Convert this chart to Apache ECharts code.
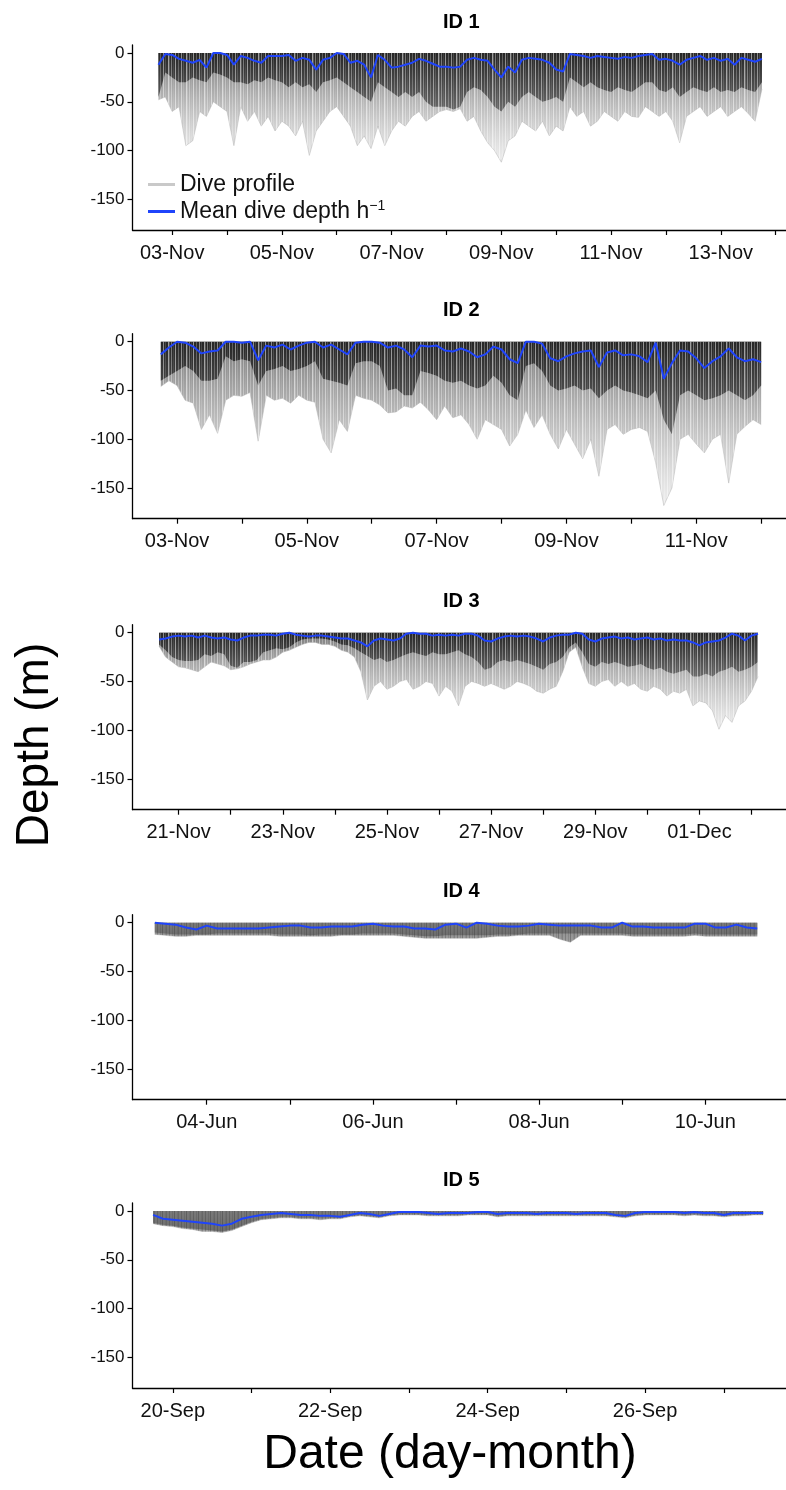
<!DOCTYPE html>
<html>
<head>
<meta charset="utf-8">
<script src="https://cdn.jsdelivr.net/npm/echarts@6/dist/echarts.min.js"></script>
<style>
  html, body { margin: 0; padding: 0; background: #fff; }
  #chart { width: 786px; height: 1490px; }
</style>
</head>
<body>
<div id="chart"></div>
<script>
// ---- data (depth in m, one value every 3 h; x in days from first labelled date) ----
const STEP = 0.125;

// ID 1
const start1 = -0.25;
const mean1 = [-12,-1,-2,-6,-8,-10,-7,-15,0,0, -2,-12,-3,-5,-8,-10,-3,-3,-3,-2, -8,-5,-7,-17,-7,-5,0,-1,-10,-8,
  -12,-25,-2,-7,-15,-14,-12,-10,-6,-8, -11,-14,-14,-15,-14,-7,-5,-7,-8,-17, -25,-14,-20,-7,-5,-6,-7,-10,-17,-19,
  -1,-2,-3,-5,-3,-4,-5,-6,-4,-5, -3,-2,-1,-7,-6,-8,-12,-7,-5,-3, -7,-5,-8,-6,-12,-5,-7,-9,-6];
const core1 = [-45,-20,-25,-30,-30,-25,-28,-30,-20,-22, -25,-30,-30,-32,-28,-30,-25,-28,-30,-35, -30,-35,-32,-40,-30,-28,-25,-30,-35,-40,
  -45,-50,-30,-35,-40,-45,-40,-45,-40,-50, -55,-55,-55,-58,-55,-40,-35,-38,-45,-55, -60,-50,-55,-45,-40,-45,-50,-48,-45,-50,
  -25,-30,-35,-30,-35,-38,-40,-35,-38,-40, -35,-30,-30,-38,-40,-35,-45,-40,-35,-38, -40,-35,-40,-38,-40,-35,-38,-40,-30];
const max1 = [-48,-45,-60,-55,-95,-90,-60,-65,-50,-55, -60,-95,-55,-70,-60,-75,-65,-80,-70,-75, -85,-70,-105,-80,-70,-60,-55,-65,-75,-95,
  -85,-98,-75,-95,-80,-70,-75,-65,-60,-70, -65,-60,-58,-60,-57,-70,-65,-80,-92,-100, -112,-90,-85,-70,-75,-80,-70,-85,-75,-80,
  -55,-65,-60,-75,-70,-60,-65,-70,-60,-65, -66,-55,-60,-65,-60,-70,-92,-65,-60,-55, -65,-60,-55,-65,-60,-55,-62,-70,-37];
const tickDays1 = [0,1,2,3,4,5,6,7,8,9,10,11];
const labelDays1 = [0,2,4,6,8,10];
const labels1 = ['03-Nov','05-Nov','07-Nov','09-Nov','11-Nov','13-Nov'];

// ID 2
const start2 = -0.25;
const mean2 = [-13,-6,0,-1,-5,-12,-10,-9,0,0, -1,0,-19,-4,-6,-3,-8,-4,-1,0, -6,-3,-8,-13,-1,0,0,-1,-6,-4,
  -8,-16,-4,-5,-4,-9,-10,-7,-10,-16, -13,-5,-8,-18,-22,0,0,-2,-17,-20, -15,-12,-10,-9,-26,-11,-9,-14,-13,-15,
  -21,-1,-38,-22,-9,-10,-17,-27,-20,-15, -7,-16,-20,-18,-21];
const core2 = [-40,-35,-30,-25,-30,-40,-40,-38,-15,-20, -18,-20,-45,-30,-28,-25,-30,-28,-25,-20, -38,-40,-42,-45,-22,-20,-20,-25,-50,-48,
  -55,-55,-30,-32,-35,-40,-42,-40,-45,-48, -45,-35,-42,-55,-60,-25,-22,-30,-45,-50, -48,-45,-50,-48,-58,-50,-45,-50,-52,-55,
  -58,-50,-80,-95,-55,-50,-55,-60,-58,-55, -50,-55,-60,-55,-45];
const max2 = [-46,-40,-45,-60,-63,-90,-75,-94,-60,-55, -56,-52,-102,-55,-60,-58,-63,-55,-60,-62, -100,-114,-80,-92,-55,-58,-60,-65,-73,-72,
  -66,-68,-62,-70,-80,-66,-78,-75,-85,-100, -80,-85,-90,-107,-95,-70,-88,-75,-95,-110, -90,-105,-120,-100,-138,-90,-85,-95,-90,-88,
  -92,-124,-168,-150,-100,-95,-105,-114,-100,-95, -145,-95,-87,-80,-85];
const tickDays2 = [0,1,2,3,4,5,6,7,8,9];
const labelDays2 = [0,2,4,6,8];
const labels2 = ['03-Nov','05-Nov','07-Nov','09-Nov','11-Nov'];

// ID 3
const start3 = -0.375;
const mean3 = [-7,-6,-4,-3,-4,-3,-5,-3,-5,-6, -5,-7,-8,-5,-3,-3,-2,-2,-3,-1, 0,-2,-3,-4,-3,-3,-4,-5,-6,-6,
  -8,-10,-14,-8,-6,-7,-8,-6,-1,0, -1,-1,-3,-2,-3,-2,-3,-1,-1,-3, -8,-9,-6,-4,-3,-4,-3,-4,-6,-9,
  -5,-3,-2,-2,0,-1,-7,-9,-6,-5, -4,-6,-5,-7,-6,-5,-7,-6,-8,-7, -8,-8,-10,-13,-10,-9,-8,-5,-1,-3, -8,-3,-1];
const core3 = [-12,-18,-25,-28,-29,-29,-28,-22,-24,-20, -22,-34,-36,-30,-30,-28,-20,-18,-16,-17, -15,-10,-7,-6,-6,-6,-7,-9,-12,-13,
  -16,-20,-24,-28,-26,-30,-28,-25,-22,-20, -22,-24,-20,-22,-22,-20,-18,-22,-25,-30, -38,-36,-30,-28,-30,-28,-30,-32,-35,-38,
  -32,-30,-25,-15,-10,-20,-32,-35,-30,-32, -30,-32,-35,-34,-32,-36,-38,-36,-40,-42, -40,-38,-45,-45,-42,-45,-40,-38,-35,-40, -38,-35,-30];
const max3 = [-14,-25,-30,-35,-36,-38,-40,-35,-30,-32, -34,-38,-37,-35,-32,-30,-28,-28,-25,-20, -18,-15,-12,-10,-10,-12,-12,-14,-18,-20,
  -25,-40,-69,-55,-50,-58,-55,-50,-48,-58, -55,-50,-52,-65,-55,-60,-75,-55,-50,-52, -55,-52,-55,-58,-55,-50,-52,-55,-60,-62,
  -58,-55,-40,-20,-15,-35,-52,-55,-50,-48, -55,-50,-55,-52,-58,-60,-55,-58,-65,-60, -62,-58,-75,-70,-72,-80,-99,-85,-92,-75, -70,-60,-45];
const tickDays3 = [0,1,2,3,4,5,6,7,8,9,10,11];
const labelDays3 = [0,2,4,6,8,10];
const labels3 = ['21-Nov','23-Nov','25-Nov','27-Nov','29-Nov','01-Dec'];

// ID 4
const start4 = -0.625;
const mean4 = [0,-1,-2,-5,-7,-3,-6,-6,-6,-6, -6,-5,-4,-3,-3,-5,-5,-4,-4,-4, -2,-1,-3,-4,-4,-6,-6,-7,-2,-1,
  -5,0,-1,-3,-4,-4,-3,-1,-2,-3, -3,-3,-3,-5,-5,0,-4,-4,-5,-5, -5,-5,-1,-1,-5,-5,-2,-5,-6];
const core4 = [-10,-11,-12,-12,-12,-12,-11,-11,-11,-11, -11,-11,-12,-12,-12,-13,-12,-12,-12,-12, -11,-11,-11,-11,-12,-13,-14,-14,-13,-13,
  -13,-13,-13,-12,-12,-12,-11,-11,-11,-11, -11,-11,-11,-11,-11,-11,-12,-12,-12,-12, -12,-12,-11,-12,-12,-12,-12,-12,-12];
const max4 = [-12,-13,-14,-14,-13,-13,-13,-13,-13,-13, -13,-13,-14,-14,-14,-14,-14,-14,-13,-13, -13,-13,-13,-13,-14,-15,-16,-16,-16,-16,
  -16,-16,-15,-14,-14,-13,-13,-13,-13,-17, -20,-13,-13,-13,-13,-13,-14,-14,-14,-14, -14,-14,-13,-14,-14,-14,-14,-14,-14];
const tickDays4 = [0,1,2,3,4,5,6];
const labelDays4 = [0,2,4,6];
const labels4 = ['04-Jun','06-Jun','08-Jun','10-Jun'];

// ID 5
const start5 = -0.25;
const mean5 = [-4,-8,-9,-10,-11,-12,-13,-15,-13,-8, -6,-4,-3,-2,-3,-4,-4,-5,-5,-6, -4,-2,-3,-5,-3,-1,-1,-1,-2,-3,
  -2,-2,-2,-1,-1,-3,-2,-2,-2,-3, -2,-2,-2,-3,-2,-2,-2,-4,-5,-2, -1,-1,-1,-1,-2,-1,-2,-2,-4,-2, -2,-2,-2];
const core5 = [-12,-14,-15,-17,-18,-19,-20,-21,-19,-15, -11,-8,-7,-6,-6,-7,-7,-7,-7,-7, -5,-4,-5,-6,-4,-3,-3,-3,-4,-4,
  -4,-4,-3,-3,-3,-5,-4,-4,-4,-4, -4,-4,-4,-4,-4,-4,-4,-5,-6,-4, -3,-3,-3,-3,-4,-3,-4,-4,-5,-4, -4,-3,-3];
const max5 = [-13,-15,-16,-18,-19,-21,-21,-22,-20,-16, -12,-9,-8,-7,-7,-8,-8,-9,-8,-8, -6,-5,-6,-7,-5,-4,-4,-4,-5,-5,
  -5,-5,-4,-4,-4,-6,-5,-5,-5,-5, -5,-5,-5,-5,-5,-5,-5,-6,-7,-5, -4,-4,-4,-4,-5,-4,-5,-5,-6,-5, -5,-4,-4];
const tickDays5 = [0,1,2,3,4,5,6,7];
const labelDays5 = [0,2,4,6];
const labels5 = ['20-Sep','22-Sep','24-Sep','26-Sep'];

const yTicks = [0, -50, -100, -150];

// ---- layout / style ----
const FONT = '"Liberation Sans", Arial, Helvetica, sans-serif';
const BLUE = '#1f44fb';
const GRID_LEFT = 132.5, GRID_W = 657.5, GRID_H = 185;
const zeroY = [53, 341.7, 632.7, 922.7, 1211];
// [first labelled tick x (px), px per day] for each panel
const xScale = [[172.4, 55.2], [177.3, 65.3], [178.9, 52.4], [207.2, 83.6], [173, 79.2]];

const panels = [
  { id: 'ID 1', start: start1, mean: mean1, core: core1, max: max1, ticks: tickDays1, lDays: labelDays1, labels: labels1, shallow: false },
  { id: 'ID 2', start: start2, mean: mean2, core: core2, max: max2, ticks: tickDays2, lDays: labelDays2, labels: labels2, shallow: false },
  { id: 'ID 3', start: start3, mean: mean3, core: core3, max: max3, ticks: tickDays3, lDays: labelDays3, labels: labels3, shallow: false },
  { id: 'ID 4', start: start4, mean: mean4, core: core4, max: max4, ticks: tickDays4, lDays: labelDays4, labels: labels4, shallow: true },
  { id: 'ID 5', start: start5, mean: mean5, core: core5, max: max5, ticks: tickDays5, lDays: labelDays5, labels: labels5, shallow: true }
];

const toXY = (start, arr) => arr.map((v, i) => [start + i * STEP, v]);
const grad = (c0, c1) => new echarts.graphic.LinearGradient(0, 0, 0, 1, [{ offset: 0, color: c0 }, { offset: 1, color: c1 }]);

// thin vertical streaks, to give the dive-profile areas a line texture
function streaks(alphas, rgb) {
  const c = document.createElement('canvas');
  c.width = alphas.length; c.height = 4;
  const ctx = c.getContext('2d');
  alphas.forEach((a, i) => {
    ctx.fillStyle = 'rgba(' + rgb + ',' + a + ')';
    ctx.fillRect(i, 0, 1, 4);
  });
  return { image: c, repeat: 'repeat' };
}
const lightStreaks = streaks([0, 0.45, 0, 0.15, 0, 0, 0.55, 0.2, 0, 0.35, 0, 0.1, 0, 0.5, 0, 0, 0.25, 0], '255,255,255');
const darkStreaks = streaks([0, 0.25, 0, 0, 0.15, 0, 0.3, 0, 0, 0.1, 0.2, 0], '40,40,40');

const grid = [], xAxis = [], yAxis = [], series = [], graphic = [];

panels.forEach((p, k) => {
  const top = zeroY[k] - 8;
  const [t0, ppd] = xScale[k];
  grid.push({ left: GRID_LEFT, top: top, width: GRID_W, height: GRID_H });
  xAxis.push({
    gridIndex: k, type: 'value',
    min: (GRID_LEFT - t0) / ppd, max: (GRID_LEFT + GRID_W - t0) / ppd,
    axisLine: { onZero: false, lineStyle: { color: '#000', width: 1.3 } },
    axisTick: { show: true, length: 5, customValues: p.ticks, lineStyle: { color: '#000', width: 1.2 } },
    axisLabel: {
      customValues: p.lDays, margin: 13, fontSize: 20, color: '#111', fontFamily: FONT,
      formatter: v => p.labels[p.lDays.indexOf(Math.round(v))] || ''
    },
    splitLine: { show: false }
  });
  yAxis.push({
    gridIndex: k, type: 'value', min: -181.5, max: 8.2,
    axisLine: { show: true, onZero: false, lineStyle: { color: '#000', width: 1.3 } },
    axisTick: { show: true, length: 5, customValues: yTicks, lineStyle: { color: '#000', width: 1.2 } },
    axisLabel: { customValues: yTicks, margin: 8, fontSize: 17, color: '#111', fontFamily: FONT },
    splitLine: { show: false }
  });

  const maxFill = p.shallow ? grad('rgba(125,125,125,0.9)', 'rgba(140,140,140,0.85)')
                            : grad('rgba(100,100,100,0.85)', 'rgba(220,220,220,0.5)');
  const coreFill = p.shallow ? grad('#7a7a7a', '#6c6c6c') : grad('#262626', '#6a6a6a');

  series.push({
    name: 'Dive profile', type: 'line', xAxisIndex: k, yAxisIndex: k,
    data: toXY(p.start, p.max), showSymbol: false, silent: true,
    lineStyle: { width: 0.6, color: 'rgba(175,175,175,0.8)' },
    areaStyle: { color: maxFill, opacity: 1 }, z: 1
  });
  series.push({
    name: 'core' + k, type: 'line', xAxisIndex: k, yAxisIndex: k,
    data: toXY(p.start, p.core), showSymbol: false, silent: true,
    lineStyle: { width: 0 }, areaStyle: { color: coreFill, opacity: 1 }, z: 2
  });
  // texture pass over the whole dive-profile area (same max values)
  series.push({
    name: 'texture' + k, type: 'line', xAxisIndex: k, yAxisIndex: k,
    data: toXY(p.start, p.max), showSymbol: false, silent: true,
    lineStyle: { width: 0 }, areaStyle: { color: p.shallow ? darkStreaks : lightStreaks, opacity: 1 }, z: 2.5
  });
  series.push({
    name: 'Mean dive depth', type: 'line', xAxisIndex: k, yAxisIndex: k,
    data: toXY(p.start, p.mean), showSymbol: false, silent: true,
    lineStyle: { width: 2, color: BLUE }, itemStyle: { color: BLUE }, z: 3
  });

  graphic.push({
    type: 'text', x: GRID_LEFT + GRID_W / 2, y: zeroY[k] - 31,
    style: { text: p.id, align: 'center', verticalAlign: 'middle', fill: '#000',
             font: 'bold 20px ' + FONT }
  });
});

graphic.push({
  type: 'text', x: 35, y: 745, rotation: Math.PI / 2,
  style: { text: 'Depth (m)', align: 'center', verticalAlign: 'middle', fill: '#000', font: '46px ' + FONT }
});
graphic.push({
  type: 'text', x: 450, y: 1455,
  style: { text: 'Date (day-month)', align: 'center', verticalAlign: 'middle', fill: '#000', font: '48px ' + FONT }
});

const chart = echarts.init(document.getElementById('chart'), null, { renderer: 'canvas' });
chart.setOption({
  animation: false,
  backgroundColor: '#fff',
  grid, xAxis, yAxis, series, graphic,
  legend: {
    left: 143, top: 167, orient: 'vertical', selectedMode: false,
    itemWidth: 27, itemHeight: 3, itemGap: 2,
    textStyle: {
      fontSize: 23, color: '#111', fontFamily: FONT, lineHeight: 25,
      rich: { sup: { fontSize: 14, color: '#111', fontFamily: FONT, verticalAlign: 'top', lineHeight: 25 } }
    },
    formatter: n => n === 'Mean dive depth' ? 'Mean dive depth h{sup|\u22121}' : n,
    data: [
      { name: 'Dive profile', icon: 'rect', itemStyle: { color: '#c9c9c9' } },
      { name: 'Mean dive depth', icon: 'rect', itemStyle: { color: BLUE } }
    ]
  }
});
</script>
</body>
</html>
